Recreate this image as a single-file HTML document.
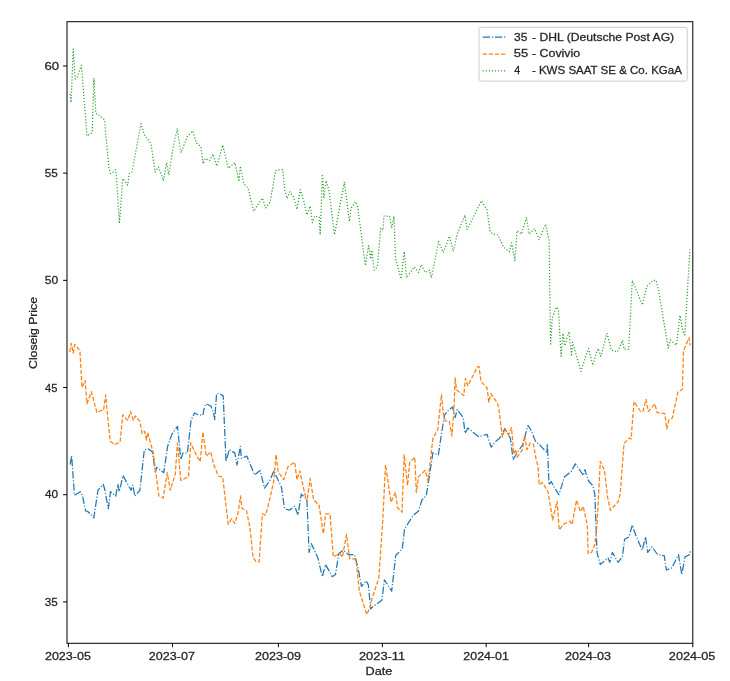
<!DOCTYPE html>
<html><head><meta charset="utf-8"><style>
html,body{margin:0;padding:0;background:#fff;width:730px;height:681px;overflow:hidden}
svg{display:block;filter:blur(0.35px)}
text{font-family:"Liberation Sans",sans-serif}
</style></head><body>
<svg width="730" height="681" viewBox="0 0 730 681">
<rect width="730" height="681" fill="#ffffff"/>
<defs><clipPath id="ax"><rect x="67.0" y="21.7" width="625.8" height="621.5999999999999"/></clipPath></defs>
<g clip-path="url(#ax)" fill="none" stroke-linejoin="round" stroke-linecap="butt">
<polyline points="70.1,464.5 71.6,455.7 74.5,495.3 80.4,491.7 82.6,496.1 85.6,510.8 87.8,511.5 93.8,517.8 98.0,490.2 103.2,484.3 104.6,488.7 108.3,508.6 110.5,491.7 115.7,496.1 117.9,484.3 119.3,491.7 123.0,475.5 128.9,486.5 131.1,490.2 132.8,485.1 134.8,496.1 139.9,490.2 144.3,449.8 148.7,449.1 152.4,452.0 155.3,472.0 156.8,467.4 163.8,472.7 167.6,446.3 172.0,434.1 177.5,426.4 180.8,459.5 183.0,452.9 187.4,452.9 191.0,420.5 194.5,413.0 198.1,414.8 202.9,415.2 203.8,410.0 205.6,404.2 208.2,404.7 210.8,406.0 213.5,412.6 214.8,419.6 215.2,412.6 216.6,393.7 218.8,393.2 223.2,395.9 226.0,461.7 229.3,449.6 234.8,452.9 237.0,465.0 240.3,446.3 241.4,458.4 246.9,456.2 254.6,474.9 260.1,470.5 264.5,488.1 270.0,480.4 273.8,470.9 281.5,487.4 284.5,508.5 289.3,510.2 294.7,506.2 298.0,515.0 301.3,494.1 304.6,497.4 306.9,499.6 309.1,552.4 311.3,543.6 317.9,557.9 322.3,576.7 325.6,564.5 332.2,576.7 335.5,574.4 338.8,553.5 343.2,550.2 345.7,552.3 348.9,554.7 354.5,554.7 357.8,566.8 361.5,586.4 366.0,580.8 368.3,584.6 370.7,608.9 372.3,607.2 382.0,600.0 384.4,579.8 391.7,591.1 395.7,555.5 402.2,549.1 404.6,528.9 413.0,515.5 418.5,511.1 421.9,500.0 426.3,495.6 429.6,474.7 432.9,452.7 438.4,454.9 441.3,434.7 444.6,414.8 447.9,410.8 452.6,406.9 455.2,417.5 457.2,409.5 463.1,417.5 465.1,433.3 467.8,428.0 478.4,436.6 487.0,434.3 491.2,447.2 495.0,441.9 499.4,438.5 504.9,428.6 510.4,438.5 513.1,459.5 517.0,452.9 522.5,445.2 528.0,425.3 531.3,430.8 535.7,441.9 539.1,444.1 546.8,452.9 547.4,444.1 549.0,484.8 551.2,481.5 553.4,485.9 558.9,494.7 564.4,477.1 571.0,471.6 575.4,463.9 583.5,475.5 584.9,469.6 588.5,481.0 592.8,485.5 594.8,494.1 597.0,552.4 600.3,564.5 608.0,557.9 609.8,562.3 612.4,552.4 618.0,562.3 622.4,556.8 624.6,539.2 629.0,537.0 632.3,524.9 635.6,534.8 642.2,550.2 645.5,537.0 647.7,552.4 652.1,546.9 657.6,554.6 664.2,555.7 666.4,570.0 671.9,567.8 678.5,554.6 681.8,574.5 685.1,556.8 689.5,554.6 690.6,550.2" stroke="#1f77b4" stroke-width="1.25" stroke-dasharray="7.36 1.84 1.15 1.84"/>
<polyline points="69.7,352.1 71.2,343.4 73.2,353.1 74.8,344.4 79.9,350.6 82.0,387.6 85.1,380.4 87.0,403.8 91.4,391.7 96.9,412.6 101.3,410.4 103.5,410.4 105.7,395.0 106.9,408.2 110.2,441.2 114.6,444.5 120.1,442.3 122.7,414.8 127.8,420.3 130.6,411.5 133.3,420.3 135.5,415.9 139.9,421.4 142.1,433.5 144.7,431.3 146.5,440.1 147.6,432.4 153.3,452.9 158.8,495.8 163.2,498.0 167.2,472.7 170.3,490.3 175.3,473.8 177.5,443.0 180.8,480.4 185.2,478.2 188.5,477.1 190.7,443.0 196.3,455.1 200.2,461.7 202.9,431.9 206.2,456.2 210.6,451.8 213.9,465.0 218.3,476.0 222.7,477.1 228.2,524.4 231.5,518.9 234.8,523.3 237.9,513.8 240.6,495.9 241.9,508.5 246.5,510.5 249.8,527.0 253.1,557.4 255.8,561.4 259.1,562.0 262.4,513.8 265.7,515.1 269.4,500.7 273.8,480.8 276.0,454.4 278.2,472.0 283.7,479.7 288.1,466.5 294.7,462.1 296.9,479.7 299.8,470.9 304.6,493.0 306.9,501.8 310.2,478.6 313.5,499.6 319.0,505.1 323.4,533.7 325.6,513.9 330.0,513.9 333.3,556.8 339.9,553.5 342.4,557.2 346.5,534.5 349.7,558.8 354.5,558.8 356.2,562.0 359.4,591.1 366.7,614.5 369.9,608.0 372.3,597.5 378.8,578.2 382.8,520.0 385.5,464.8 391.0,502.2 395.4,492.3 397.6,507.8 402.0,512.2 404.2,454.9 407.5,485.7 409.7,462.6 414.8,457.1 416.3,492.3 418.5,476.9 425.2,470.3 428.0,481.3 432.9,438.4 437.7,429.6 441.5,394.5 443.3,413.5 445.3,420.8 449.3,421.4 451.9,436.0 453.9,410.8 455.2,377.8 456.5,389.7 463.8,395.6 465.4,378.4 467.8,385.7 477.7,366.5 479.0,366.5 481.0,381.7 487.0,387.7 488.9,402.2 490.9,393.7 497.5,402.9 498.9,409.5 502.4,437.0 504.9,428.6 508.5,435.0 511.5,427.5 513.7,454.0 515.9,449.6 517.0,457.3 522.5,449.6 524.7,435.2 526.9,449.6 530.2,443.0 533.5,444.1 535.7,457.3 538.0,466.1 539.1,484.8 542.4,482.6 547.9,491.4 552.7,520.0 557.1,501.3 559.3,530.0 563.3,524.4 569.9,521.1 572.1,524.4 576.5,500.2 580.5,511.7 583.2,506.5 587.3,525.0 588.2,553.5 591.5,552.4 594.8,544.7 597.0,524.9 600.3,461.5 604.5,470.5 607.5,497.0 610.4,510.3 618.0,501.8 620.2,494.1 624.0,443.4 629.6,437.9 631.1,439.0 634.0,401.6 640.6,411.5 642.8,411.5 646.1,399.4 648.3,411.5 654.9,403.8 657.1,412.6 664.8,413.7 666.8,429.0 669.0,419.6 672.3,418.0 678.0,391.7 682.4,389.5 683.5,350.9 689.0,337.7 690.1,345.4" stroke="#ff7f0e" stroke-width="1.25" stroke-dasharray="4.26 1.84"/>
<polyline points="70.1,94.0 71.1,102.5 73.2,49.0 75.3,79.0 77.3,77.0 81.4,65.2 87.0,136.0 92.2,132.5 93.9,78.2 95.8,113.4 103.5,118.6 104.6,120.4 108.8,167.6 110.6,173.5 113.2,172.0 115.4,169.8 116.4,176.4 119.4,223.4 122.8,178.6 125.7,182.3 127.6,185.2 129.4,173.5 132.0,172.0 141.0,123.7 144.3,134.7 150.9,143.5 155.1,172.0 158.4,166.9 161.7,175.7 163.4,180.8 166.6,162.8 168.8,174.9 172.1,152.9 177.2,128.6 180.9,152.9 187.5,136.3 192.6,130.8 196.3,143.0 200.7,146.3 203.0,163.9 205.2,158.4 209.6,160.6 212.9,154.0 216.8,166.1 222.8,145.2 228.3,168.3 234.9,162.8 238.9,181.5 240.4,166.1 243.7,183.7 248.1,188.1 253.6,211.2 262.4,198.0 265.7,207.9 270.1,202.4 275.6,170.5 282.7,169.7 284.9,190.7 287.1,198.4 290.0,191.8 293.7,197.3 297.0,209.4 300.3,189.6 303.6,200.6 306.9,214.9 310.2,206.1 312.4,222.6 314.6,216.0 319.1,217.1 320.2,234.7 322.4,174.1 323.9,197.3 326.1,180.7 329.0,190.7 334.5,234.7 344.4,181.9 349.4,221.5 351.0,208.3 355.4,201.7 357.6,206.1 365.3,265.6 368.6,245.7 370.8,258.9 371.9,250.1 374.1,270.0 377.4,266.7 380.7,228.1 382.9,230.3 384.0,216.0 389.5,216.0 391.7,228.1 394.0,216.3 395.5,258.1 401.0,279.0 404.3,251.5 406.5,277.9 414.2,266.9 418.6,272.4 421.3,264.7 425.2,272.4 429.6,270.2 431.4,277.9 438.5,241.6 443.3,252.6 449.5,236.1 453.4,251.5 457.2,233.9 464.9,215.2 467.1,229.5 481.4,200.8 486.9,209.6 490.2,231.7 492.4,233.9 497.9,235.0 503.4,247.1 509.4,251.7 511.6,242.9 514.9,260.5 517.1,230.7 521.5,234.1 526.4,217.5 529.2,234.1 534.7,228.5 539.1,239.6 545.7,224.1 549.1,240.7 550.6,344.0 552.3,317.6 556.7,307.0 558.5,310.5 561.1,356.3 562.9,333.4 564.7,345.8 569.1,331.7 571.4,356.3 572.6,342.2 580.9,371.3 588.5,348.4 592.9,365.2 595.5,355.5 598.1,348.4 600.8,356.3 607.0,333.4 611.4,350.2 617.5,351.9 622.5,340.5 624.1,349.2 628.6,349.2 632.3,280.4 642.4,305.0 646.7,286.5 652.9,280.4 656.0,280.4 658.5,290.0 668.3,348.2 670.4,340.0 676.5,345.1 680.0,315.3 682.7,330.7 684.8,334.9 689.9,249.5" stroke="#2ca02c" stroke-width="1.25" stroke-dasharray="1.15 1.9"/>
</g>
<rect x="67.0" y="21.7" width="625.80" height="621.60" fill="none" stroke="#000" stroke-width="1.0"/>
<path d="M63.10,601.91H67.00M63.10,494.72H67.00M63.10,387.54H67.00M63.10,280.35H67.00M63.10,173.17H67.00M63.10,65.98H67.00M68.40,643.30V647.20M172.50,643.30V647.20M278.40,643.30V647.20M382.40,643.30V647.20M486.20,643.30V647.20M588.60,643.30V647.20M692.80,643.30V647.20" stroke="#000" stroke-width="1.0" fill="none"/>
<rect x="479.0" y="27.3" width="208.2" height="53.8" rx="2.2" ry="2.2" fill="#ffffff" fill-opacity="0.8" stroke="#cccccc" stroke-width="1.0"/>
<g fill="none" stroke-width="1.25">
<path d="M482.7,37.15H505.3" stroke="#1f77b4" stroke-dasharray="7.36 1.84 1.15 1.84"/>
<path d="M482.7,54.1H505.3" stroke="#ff7f0e" stroke-dasharray="4.26 1.84"/>
<path d="M482.7,70.95H505.3" stroke="#2ca02c" stroke-dasharray="1.15 1.9"/>
</g>
<g font-family="Liberation Sans, sans-serif" font-size="11.5" fill="#262626" stroke="#262626" stroke-width="0.28">
<text x="44.83" y="605.86" textLength="12.98" lengthAdjust="spacingAndGlyphs" xml:space="preserve">35</text>
<text x="44.94" y="497.70" textLength="13.05" lengthAdjust="spacingAndGlyphs" xml:space="preserve">40</text>
<text x="44.94" y="391.66" textLength="12.41" lengthAdjust="spacingAndGlyphs" xml:space="preserve">45</text>
<text x="44.81" y="283.85" textLength="13.44" lengthAdjust="spacingAndGlyphs" xml:space="preserve">50</text>
<text x="44.84" y="176.53" textLength="13.03" lengthAdjust="spacingAndGlyphs" xml:space="preserve">55</text>
<text x="44.52" y="69.52" textLength="14.65" lengthAdjust="spacingAndGlyphs" xml:space="preserve">60</text>
<text x="44.93" y="659.64" textLength="45.97" lengthAdjust="spacingAndGlyphs" xml:space="preserve">2023-05</text>
<text x="148.86" y="659.63" textLength="46.03" lengthAdjust="spacingAndGlyphs" xml:space="preserve">2023-07</text>
<text x="254.92" y="659.56" textLength="46.18" lengthAdjust="spacingAndGlyphs" xml:space="preserve">2023-09</text>
<text x="358.93" y="659.68" textLength="46.30" lengthAdjust="spacingAndGlyphs" xml:space="preserve">2023-11</text>
<text x="463.37" y="659.66" textLength="45.45" lengthAdjust="spacingAndGlyphs" xml:space="preserve">2024-01</text>
<text x="564.92" y="659.73" textLength="46.11" lengthAdjust="spacingAndGlyphs" xml:space="preserve">2024-03</text>
<text x="668.86" y="659.58" textLength="46.56" lengthAdjust="spacingAndGlyphs" xml:space="preserve">2024-05</text>
<text x="365.53" y="674.66" textLength="26.88" lengthAdjust="spacingAndGlyphs" xml:space="preserve">Date</text>
<text transform="translate(37.30,332.97) rotate(-90)" x="0" y="0" text-anchor="middle" textLength="71.88" lengthAdjust="spacingAndGlyphs">Closeig Price</text>
<text x="514.04" y="40.78" textLength="13.31" lengthAdjust="spacingAndGlyphs" xml:space="preserve">35</text>
<text x="513.68" y="56.73" textLength="14.42" lengthAdjust="spacingAndGlyphs" xml:space="preserve">55</text>
<text x="514.35" y="73.80" textLength="5.96" lengthAdjust="spacingAndGlyphs" xml:space="preserve">4</text>
<text x="532.01" y="40.78" textLength="142.17" lengthAdjust="spacingAndGlyphs" xml:space="preserve">- DHL (Deutsche Post AG)</text>
<text x="532.01" y="56.73" textLength="48.17" lengthAdjust="spacingAndGlyphs" xml:space="preserve">- Covivio</text>
<text x="531.91" y="73.80" textLength="149.99" lengthAdjust="spacingAndGlyphs" xml:space="preserve">- KWS SAAT SE &amp; Co. KGaA</text>
</g>
</svg>
</body></html>
